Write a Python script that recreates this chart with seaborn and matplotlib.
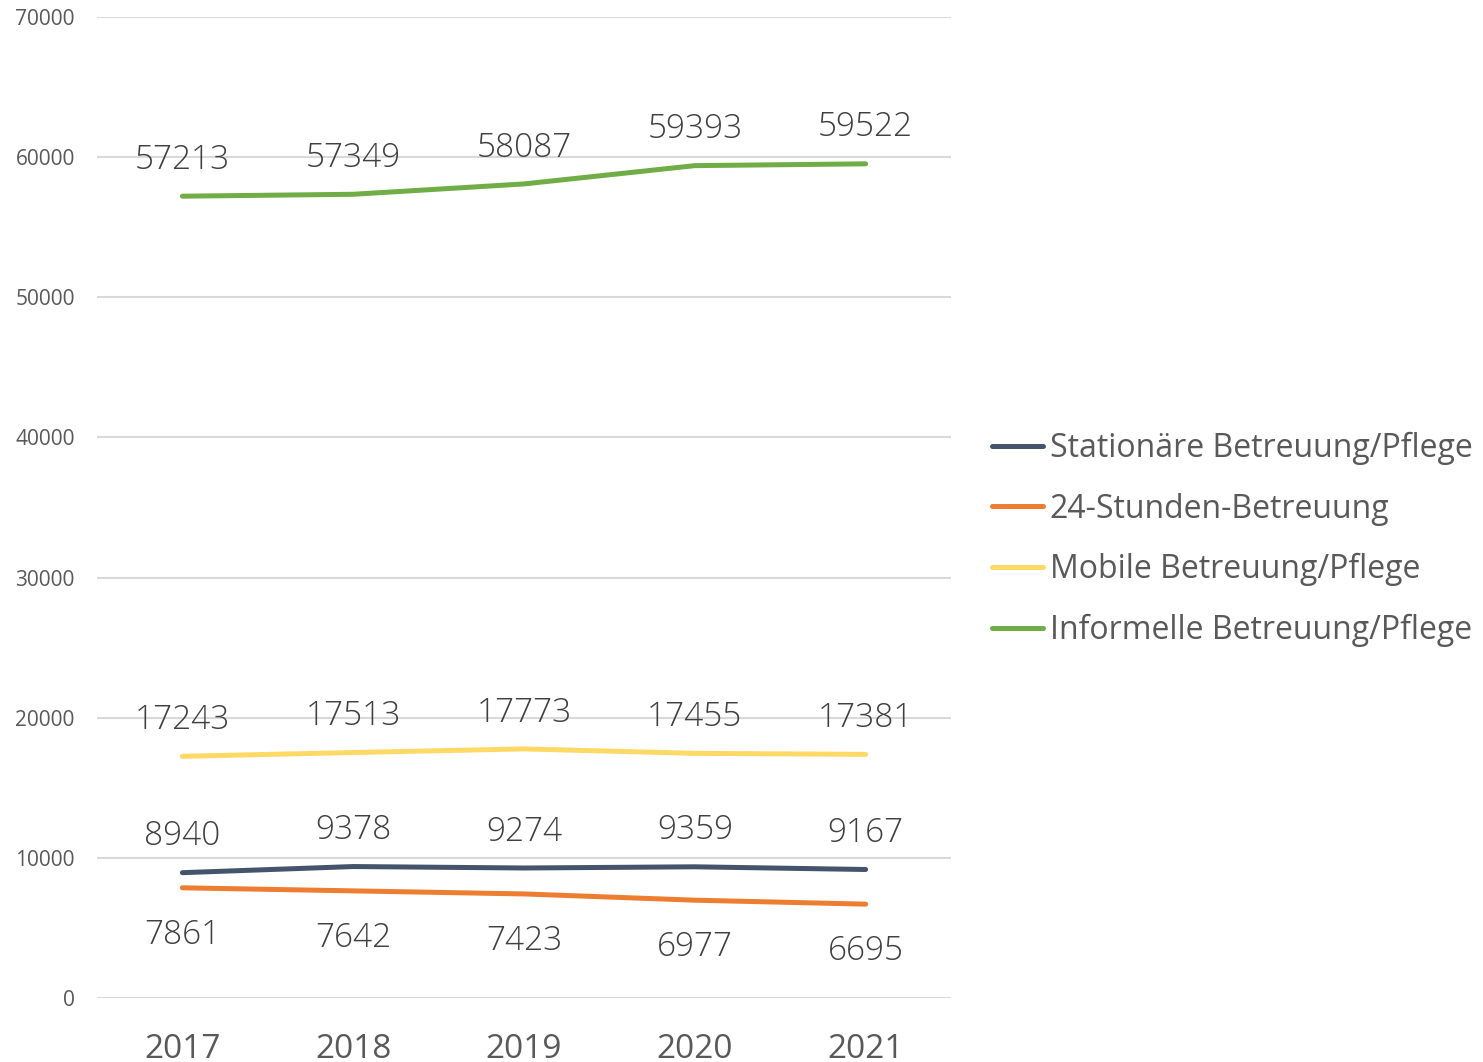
import matplotlib
matplotlib.use("Agg")
import matplotlib.pyplot as plt
import seaborn as sns
import pandas as pd

years = [2017, 2018, 2019, 2020, 2021]
stationaer = [8940, 9378, 9274, 9359, 9167]
stunden24 = [7861, 7642, 7423, 6977, 6695]
mobile = [17243, 17513, 17773, 17455, 17381]
informell = [57213, 57349, 58087, 59393, 59522]

series_names = ["Stationäre Betreuung/Pflege", "24-Stunden-Betreuung",
                "Mobile Betreuung/Pflege", "Informelle Betreuung/Pflege"]
series_values = [stationaer, stunden24, mobile, informell]
colors = ["#44546A", "#ED7D31", "#FFD966", "#70AD47"]
label_below = [False, True, False, False]

rows = []
for name, vals in zip(series_names, series_values):
    for y, v in zip(years, vals):
        rows.append({"Jahr": y, "Wert": v, "Serie": name})
data = pd.DataFrame(rows)

sns.set_style("white")
plt.rcParams["font.family"] = ["Open Sans", "DejaVu Sans"]
text_col = "#595959"

fig = plt.figure(figsize=(14.83, 10.62), dpi=100)
ax = fig.add_axes([0.0654, 0.0603, 0.5759, 0.9237])

sns.lineplot(data=data, x="Jahr", y="Wert", hue="Serie", hue_order=series_names,
             palette=colors, linewidth=3.6, ax=ax, solid_capstyle="round", zorder=3)

# data labels: above the line, except the orange series (below)
for name, vals, below in zip(series_names, series_values, label_below):
    for y, v in zip(years, vals):
        ax.annotate(str(v), (y, v), xytext=(0, -34 if below else 26),
                    textcoords="offset points", ha="center", va="center",
                    fontsize=24, color="#404040", fontweight="light", zorder=4)

ax.set_xlim(2016.5, 2021.5)
ax.set_ylim(0, 70000)
ax.set_yticks(range(0, 70001, 10000))
ax.set_xticks(years)
ax.grid(axis="y", color="#D9D9D9", linewidth=1.5)
ax.grid(axis="x", visible=False)
for s in ax.spines.values():
    s.set_visible(False)
ax.tick_params(axis="y", length=0, labelsize=15, labelcolor=text_col, pad=16)
ax.tick_params(axis="x", length=0, labelsize=24, labelcolor=text_col, pad=25)
ax.set_xlabel("")
ax.set_ylabel("")

handles, labels = ax.get_legend_handles_labels()
ax.legend_.remove()
leg = fig.legend(handles, labels, loc="center left", bbox_to_anchor=(0.669, 0.492),
                 frameon=False, fontsize=23, handlelength=1.6, handletextpad=0.2,
                 labelspacing=0.86, borderpad=0, borderaxespad=0)
for t in leg.get_texts():
    t.set_color(text_col)
for l in leg.get_lines():
    l.set_linewidth(3.6)
    l.set_solid_capstyle("round")

fig.savefig("out.png", dpi=100)
